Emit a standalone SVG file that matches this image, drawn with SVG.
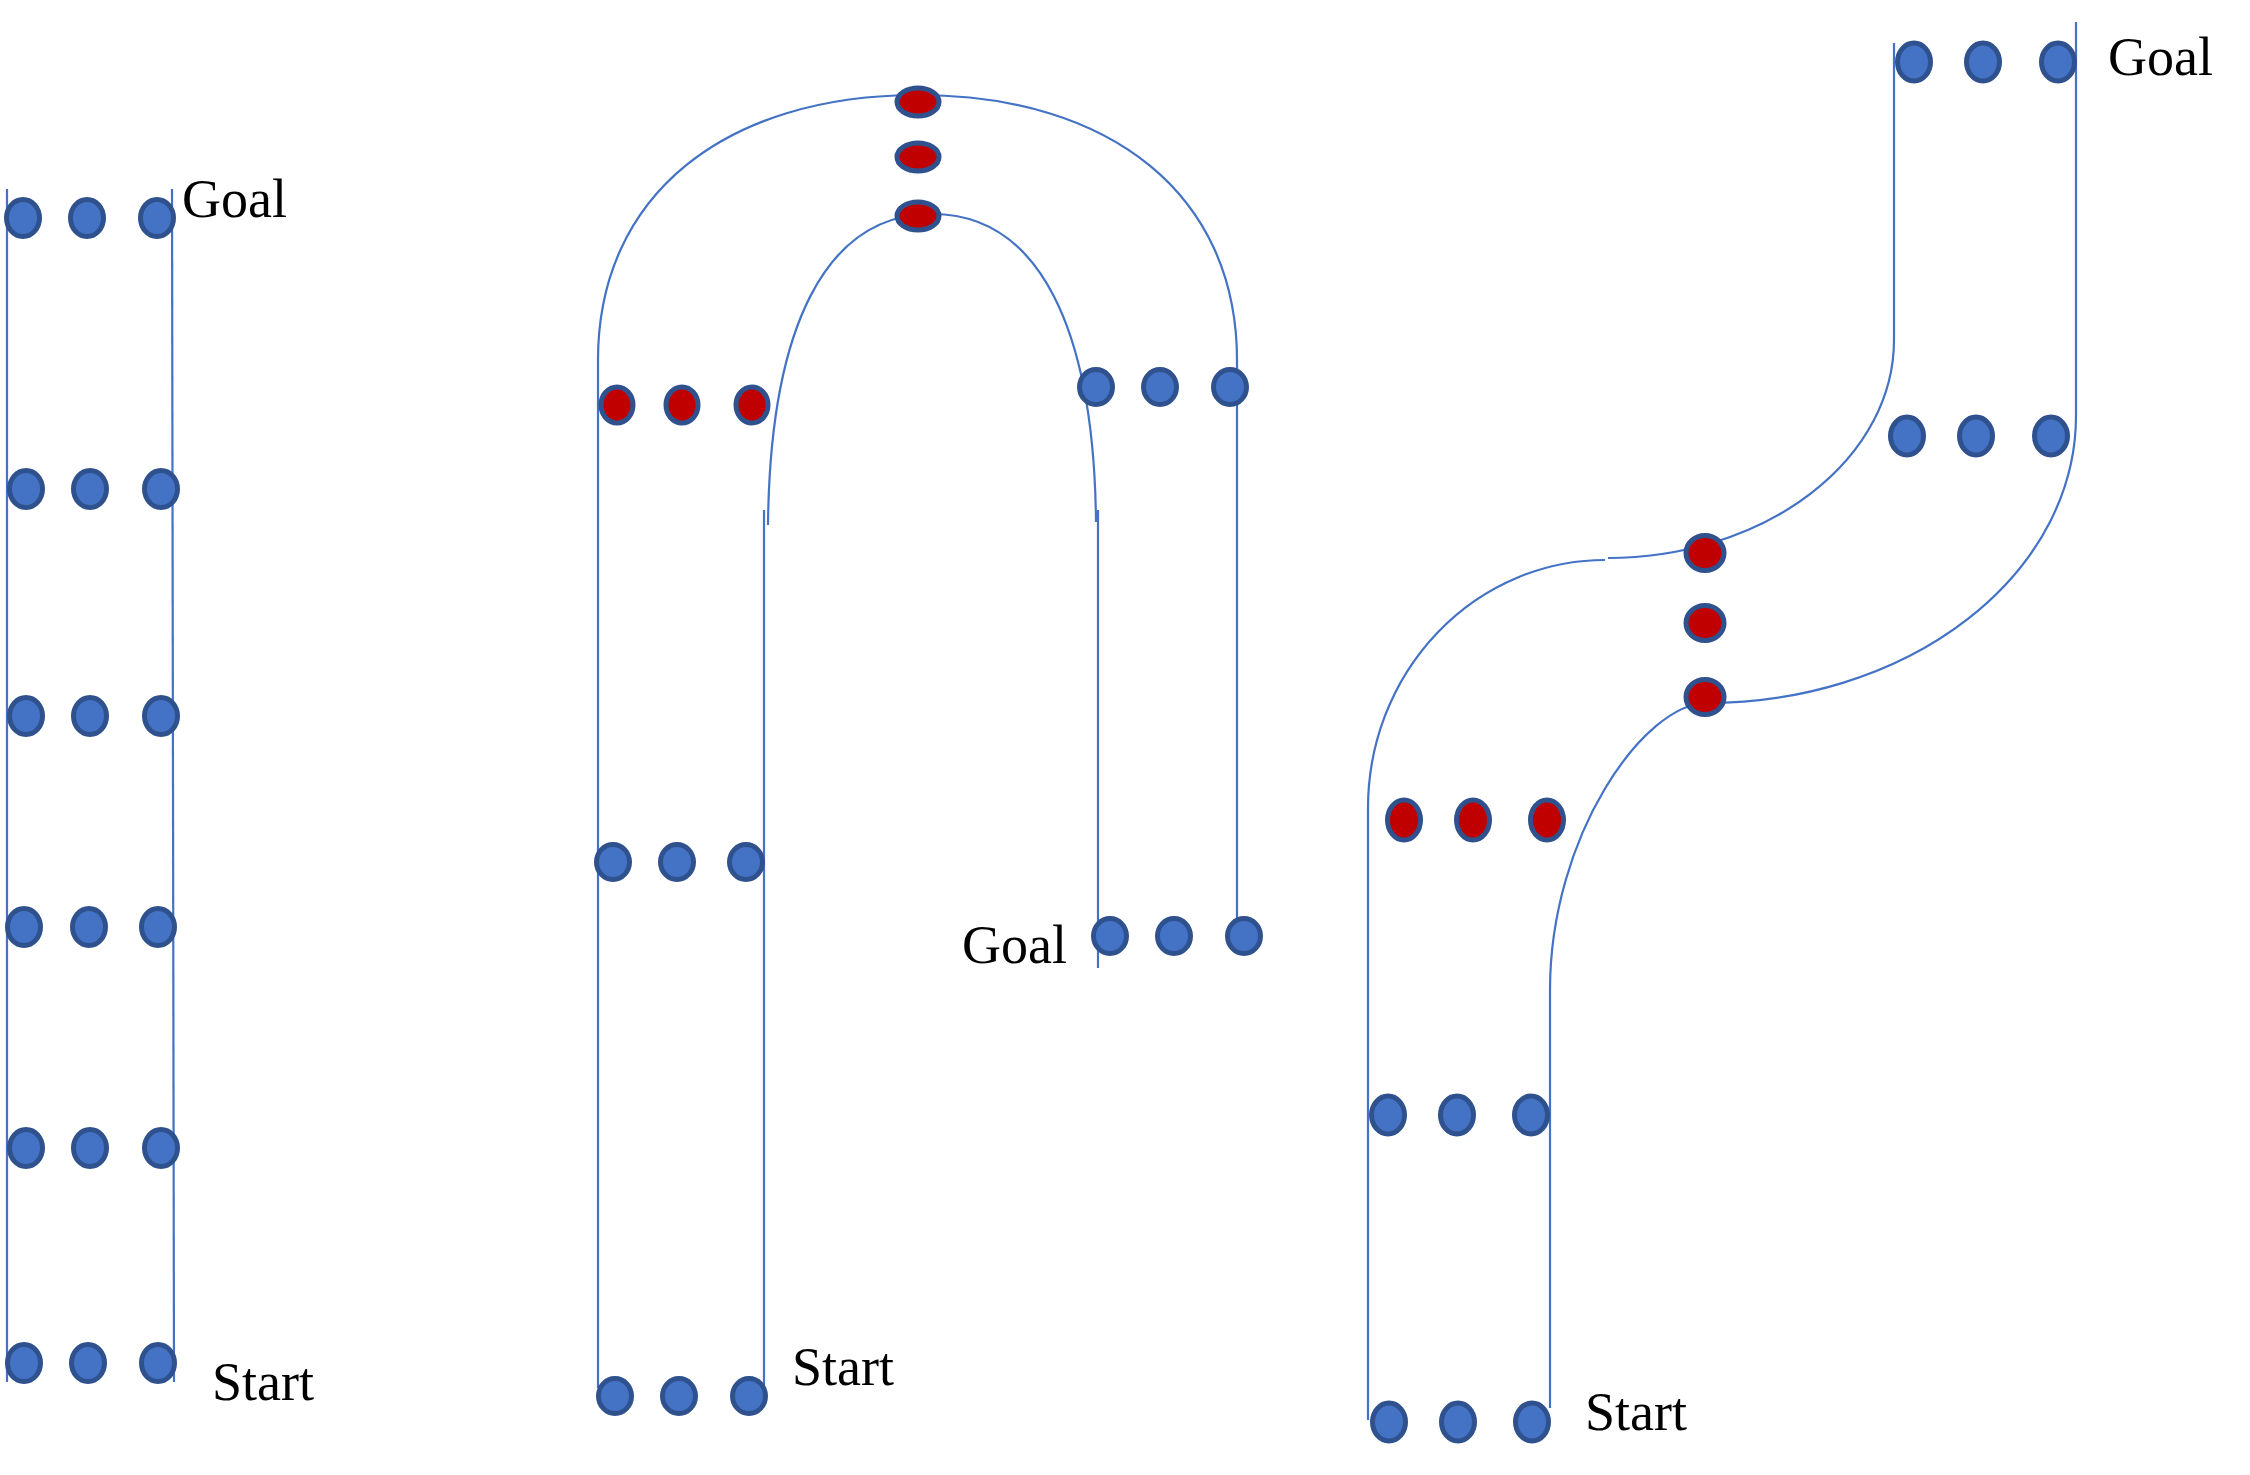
<svg xmlns="http://www.w3.org/2000/svg" width="2250" height="1475" viewBox="0 0 2250 1475">
<style>
.ln{fill:none;stroke:#4472C4;stroke-width:2.2}
.b{fill:#4472C4;stroke:#2F528F;stroke-width:5}
.r{fill:#C00000;stroke:#2F528F;stroke-width:5}
.t{font-family:"Liberation Serif","Times New Roman",serif;font-size:54px;fill:#000}
</style>
<rect width="2250" height="1475" fill="#fff"/>
<g id="connectors">
<path class="ln" d="M7 189 V1382"/>
<path class="ln" d="M172 189 L174 1382"/>
<path class="ln" d="M598 1388 V360 C598 195 725 95 918 95 C1111 95 1237 195 1237 360 V918"/>
<path class="ln" d="M768 525 C770 330 824 214 932 214 C1040 214 1094 330 1096 522"/>
<path class="ln" d="M764 510 V1385"/>
<path class="ln" d="M1098 510 V968"/>
<path class="ln" d="M1894 43 V340 A287 218 0 0 1 1608 558"/>
<path class="ln" d="M1605 560 A237 248 0 0 0 1368 808 V1420"/>
<path class="ln" d="M2076 22 V416 A369 287 0 0 1 1707 703 C1644 703 1550 836 1550 990 V1408"/>
</g>
<g id="p1-row1"><ellipse class="b" cx="23" cy="218" rx="16.5" ry="18.5"/><ellipse class="b" cx="87" cy="218" rx="16.5" ry="18.5"/><ellipse class="b" cx="157" cy="218" rx="16.5" ry="18.5"/></g>
<g id="p1-row2"><ellipse class="b" cx="26" cy="489" rx="16.5" ry="18.5"/><ellipse class="b" cx="90" cy="489" rx="16.5" ry="18.5"/><ellipse class="b" cx="161" cy="489" rx="16.5" ry="18.5"/></g>
<g id="p1-row3"><ellipse class="b" cx="26" cy="716" rx="16.5" ry="18.5"/><ellipse class="b" cx="90" cy="716" rx="16.5" ry="18.5"/><ellipse class="b" cx="161" cy="716" rx="16.5" ry="18.5"/></g>
<g id="p1-row4"><ellipse class="b" cx="24" cy="927" rx="16.5" ry="18.5"/><ellipse class="b" cx="89" cy="927" rx="16.5" ry="18.5"/><ellipse class="b" cx="158" cy="927" rx="16.5" ry="18.5"/></g>
<g id="p1-row5"><ellipse class="b" cx="26" cy="1148" rx="16.5" ry="18.5"/><ellipse class="b" cx="90" cy="1148" rx="16.5" ry="18.5"/><ellipse class="b" cx="161" cy="1148" rx="16.5" ry="18.5"/></g>
<g id="p1-row6"><ellipse class="b" cx="24" cy="1363" rx="16.5" ry="18.5"/><ellipse class="b" cx="88" cy="1363" rx="16.5" ry="18.5"/><ellipse class="b" cx="158" cy="1363" rx="16.5" ry="18.5"/></g>
<g id="p1-goal"><text class="t" x="182" y="217">Goal</text></g>
<g id="p1-start"><text class="t" x="212" y="1400">Start</text></g>

<g id="p2-top-red"><ellipse class="r" cx="918" cy="102" rx="21" ry="14"/><ellipse class="r" cx="918" cy="157" rx="21" ry="14"/><ellipse class="r" cx="918" cy="216" rx="21" ry="14"/></g>
<g id="p2-left-red"><ellipse class="r" cx="617" cy="405" rx="16" ry="18"/><ellipse class="r" cx="682" cy="405" rx="16" ry="18"/><ellipse class="r" cx="752" cy="405" rx="16" ry="18"/></g>
<g id="p2-right-blue"><ellipse class="b" cx="1096" cy="387" rx="16.5" ry="17.5"/><ellipse class="b" cx="1160" cy="387" rx="16.5" ry="17.5"/><ellipse class="b" cx="1230" cy="387" rx="16.5" ry="17.5"/></g>
<g id="p2-mid-blue"><ellipse class="b" cx="613" cy="862" rx="16.5" ry="17.5"/><ellipse class="b" cx="677" cy="862" rx="16.5" ry="17.5"/><ellipse class="b" cx="746" cy="862" rx="16.5" ry="17.5"/></g>
<g id="p2-goal-row"><ellipse class="b" cx="1110" cy="936" rx="16.5" ry="17.5"/><ellipse class="b" cx="1174" cy="936" rx="16.5" ry="17.5"/><ellipse class="b" cx="1244" cy="936" rx="16.5" ry="17.5"/></g>
<g id="p2-start-row"><ellipse class="b" cx="615" cy="1396" rx="16.5" ry="17.5"/><ellipse class="b" cx="679" cy="1396" rx="16.5" ry="17.5"/><ellipse class="b" cx="749" cy="1396" rx="16.5" ry="17.5"/></g>
<g id="p2-goal"><text class="t" x="962" y="963">Goal</text></g>
<g id="p2-start"><text class="t" x="792" y="1385">Start</text></g>

<g id="p3-goal-row"><ellipse class="b" cx="1914" cy="62" rx="16.5" ry="19"/><ellipse class="b" cx="1983" cy="62" rx="16.5" ry="19"/><ellipse class="b" cx="2058" cy="62" rx="16.5" ry="19"/></g>
<g id="p3-row2"><ellipse class="b" cx="1907" cy="436" rx="16.5" ry="19"/><ellipse class="b" cx="1976" cy="436" rx="16.5" ry="19"/><ellipse class="b" cx="2051" cy="436" rx="16.5" ry="19"/></g>
<g id="p3-red-col"><ellipse class="r" cx="1705" cy="553" rx="19" ry="17.5"/><ellipse class="r" cx="1705" cy="623" rx="19" ry="17.5"/><ellipse class="r" cx="1705" cy="697" rx="19" ry="17.5"/></g>
<g id="p3-red-row"><ellipse class="r" cx="1404" cy="820" rx="16.5" ry="20"/><ellipse class="r" cx="1473" cy="820" rx="16.5" ry="20"/><ellipse class="r" cx="1547" cy="820" rx="16.5" ry="20"/></g>
<g id="p3-mid-blue"><ellipse class="b" cx="1388" cy="1115" rx="16.5" ry="19"/><ellipse class="b" cx="1457" cy="1115" rx="16.5" ry="19"/><ellipse class="b" cx="1531" cy="1115" rx="16.5" ry="19"/></g>
<g id="p3-start-row"><ellipse class="b" cx="1389" cy="1422" rx="16.5" ry="19"/><ellipse class="b" cx="1458" cy="1422" rx="16.5" ry="19"/><ellipse class="b" cx="1532" cy="1422" rx="16.5" ry="19"/></g>
<g id="p3-goal"><text class="t" x="2108" y="75">Goal</text></g>
<g id="p3-start"><text class="t" x="1585" y="1430">Start</text></g>
</svg>
